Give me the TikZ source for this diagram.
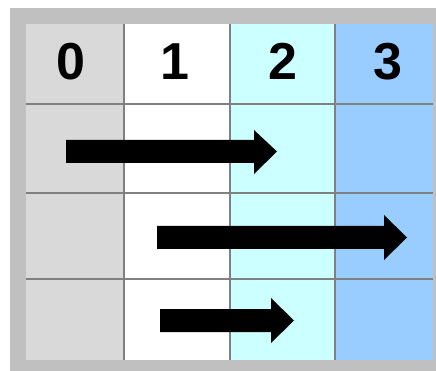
\documentclass[tikz,border=0pt]{standalone}
\usepackage{fontspec}
\setmainfont{Liberation Sans}
\definecolor{framegray}{HTML}{C0C0C0}
\definecolor{colzero}{HTML}{D9D9D9}
\definecolor{coltwo}{HTML}{CCFFFF}
\definecolor{colthree}{HTML}{99CCFF}
\definecolor{gridgray}{HTML}{808080}
\tikzset{
  gridline/.style={draw=gridgray, line width=2.4pt},
  header/.style={font=\fontsize{52}{52}\selectfont\bfseries, inner sep=0pt},
  bararrow/.style={fill=black, draw=none},
}
\begin{document}
\begin{tikzpicture}[x=1pt,y=-1pt]
\useasboundingbox (0,0) rectangle (436,371);
% frame
\fill[framegray] (10,8) rectangle (436,371);
% columns
\fill[colzero] (26,24) rectangle (124,360);
\fill[white] (124,24) rectangle (230,360);
\fill[coltwo] (230,24) rectangle (335,360);
\fill[colthree] (335,24) rectangle (433,360);
% grid lines
\draw[gridline] (124,24) -- (124,360);
\draw[gridline] (230,24) -- (230,360);
\draw[gridline] (335,24) -- (335,360);
\draw[gridline] (26,104) -- (433,104);
\draw[gridline] (26,193) -- (433,193);
\draw[gridline] (26,279) -- (433,279);
% headers
\node[header] (h0) at (70.5,61.5) {0};
\node[header] (h1) at (175,61.5) {1};
\node[header] (h2) at (282.5,61.5) {2};
\node[header] (h3) at (388,61.5) {3};
% arrows
\fill[bararrow] (66,140) -- (254,140) -- (254,130) -- (277,151.5) -- (254,174) -- (254,163) -- (66,163) -- cycle;
\fill[bararrow] (157,226) -- (384,226) -- (384,215) -- (407,237.5) -- (384,260) -- (384,249) -- (157,249) -- cycle;
\fill[bararrow] (160,309) -- (271,309) -- (271,298) -- (294,320.5) -- (271,343) -- (271,332) -- (160,332) -- cycle;
\end{tikzpicture}
\end{document}
